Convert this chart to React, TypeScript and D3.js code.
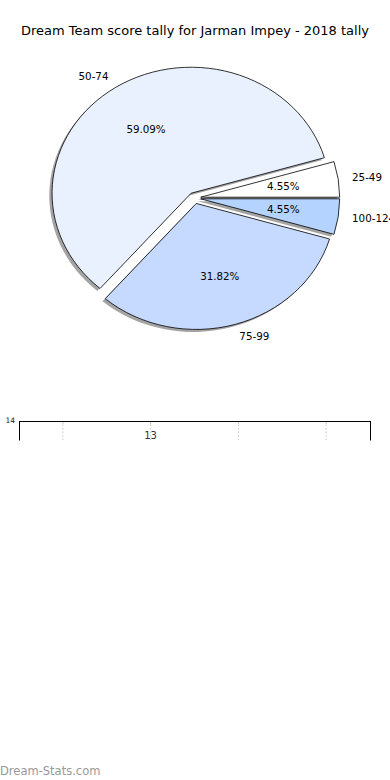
import React from "react";
import * as d3 from "d3";

const categories = ["25-49", "50-74", "75-99", "100-124"];
const counts = [1, 13, 7, 1];
const colors = ["#ffffff", "#eaf1fe", "#c6d9fe", "#b4d3fe"];
const explode = [0.045, 0.045, 0.045, 0.045];
const yTicks = [14];
const title = "Dream Team score tally for Jarman Impey - 2018 tally";
const watermark = "Dream-Stats.com";

const W = 390;
const H = 780;
const cx = 194.5;
const cy = 198;
const rx = 139;
const ry = 126;

export default function App() {
  const total = d3.sum(counts);
  const pie = d3
    .pie<number>()
    .sort(null)
    .startAngle(0)
    .endAngle(2 * Math.PI);
  const arcs = pie(counts);
  const unitArc = d3.arc<any>().innerRadius(0).outerRadius(1);
  const font = "DejaVu Sans, sans-serif";

  const slices = arcs.map((a, i) => {
    // matplotlib angles: CCW from east
    const t1 = a.startAngle;
    const t2 = a.endAngle;
    const tm = (t1 + t2) / 2;
    const ox = cx + explode[i] * rx * Math.cos(tm);
    const oy = cy - explode[i] * ry * Math.sin(tm);
    const path = unitArc({
      startAngle: Math.PI / 2 - t1,
      endAngle: Math.PI / 2 - t2,
    } as any) as string;
    const lx = ox + 1.1 * rx * Math.cos(tm);
    const ly = oy - 1.1 * ry * Math.sin(tm);
    const px = ox + 0.6 * rx * Math.cos(tm);
    const py = oy - 0.6 * ry * Math.sin(tm);
    const pct = ((counts[i] / total) * 100).toFixed(2) + "%";
    return { i, ox, oy, path, lx, ly, px, py, pct, cosm: Math.cos(tm) };
  });

  // lower axes (bar chart, mostly clipped)
  const x = d3.scaleBand<string>().domain(categories).range([19, 370]);
  const y = d3.scaleLinear().domain([0, 14]).range([519, 421]);
  const maxIdx = counts.indexOf(d3.max(counts) as number);

  return (
    <svg
      width={W}
      height={H}
      style={{ position: "absolute", left: 0, top: 0, overflow: "hidden", background: "#fff" }}
      fontFamily={font}
    >
      <rect x={0} y={0} width={W} height={H} fill="#fff" />
      <text x={195} y={34.5} textAnchor="middle" fontSize={13} fill="#000">
        {title}
      </text>

      {slices.map((s) => (
        <path
          key={"sh" + s.i}
          d={s.path}
          transform={`translate(${s.ox - 0.02 * rx},${s.oy + 0.02 * ry}) scale(${rx},${ry})`}
          fill="#4a4a4c"
          fillOpacity={0.5}
        />
      ))}
      {slices.map((s) => (
        <path
          key={"w" + s.i}
          d={s.path}
          transform={`translate(${s.ox},${s.oy}) scale(${rx},${ry})`}
          fill={colors[s.i]}
          stroke="#000"
          strokeWidth={0.8}
          vectorEffect="non-scaling-stroke"
          strokeLinejoin="round"
        />
      ))}
      {slices.map((s) => (
        <text
          key={"l" + s.i}
          x={s.lx}
          y={s.ly}
          dy="0.35em"
          textAnchor={s.cosm > 0 ? "start" : "end"}
          fontSize={10.3}
          fill="#000"
        >
          {categories[s.i]}
        </text>
      ))}
      {slices.map((s) => (
        <text
          key={"p" + s.i}
          x={s.px}
          y={s.py}
          dy="0.35em"
          textAnchor="middle"
          fontSize={10.3}
          fill="#000"
        >
          {s.pct}
        </text>
      ))}

      <defs>
        <clipPath id="lowerClip">
          <rect x={0} y={410} width={W} height={30.5} />
        </clipPath>
      </defs>
      <g clipPath="url(#lowerClip)">
        {categories.map((c) => {
          const gx = (x(c) as number) + x.bandwidth() / 2;
          return (
            <g key={c}>
              <line x1={gx} x2={gx} y1={y(14)} y2={y(0)} stroke="#c8c8c8" strokeDasharray="1.5,2" strokeWidth={1} />
              <line x1={gx} x2={gx} y1={y(14)} y2={y(14) + 3} stroke="#c8c8c8" strokeWidth={1} />
            </g>
          );
        })}
        <text
          x={(x(categories[maxIdx]) as number) + x.bandwidth() / 2}
          y={y(counts[maxIdx]) + 11}
          textAnchor="middle"
          fontSize={10}
          fill="#334"
        >
          {counts[maxIdx]}
        </text>
        <line x1={19.5} x2={19.5} y1={421} y2={y(0)} stroke="#000" strokeWidth={1} />
        <line x1={370.5} x2={370.5} y1={421} y2={y(0)} stroke="#000" strokeWidth={1} />
        <line x1={19} x2={371} y1={421.5} y2={421.5} stroke="#000" strokeWidth={1} />
      </g>
      {yTicks.map((t) => (
        <text key={t} x={15} y={y(t)} dy="0.3em" textAnchor="end" fontSize={7.5} fill="#222">
          {t}
        </text>
      ))}

      <text x={0} y={775} fontSize={11.5} fill="#999" fontFamily="DejaVu Sans, sans-serif">
        {watermark}
      </text>
    </svg>
  );
}
